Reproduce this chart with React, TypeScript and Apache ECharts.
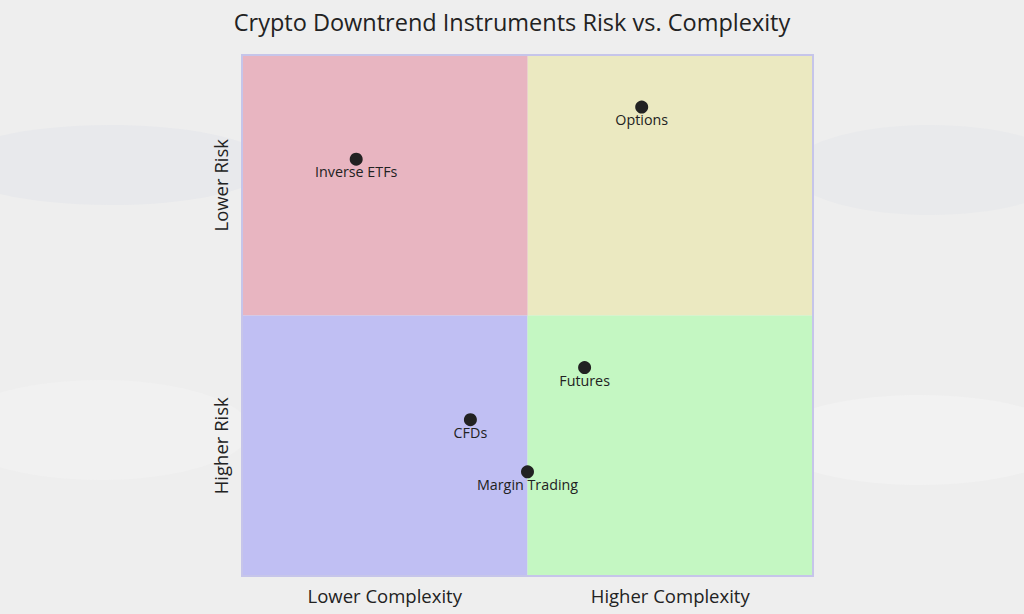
import React, { useEffect, useRef } from "react";
import * as echarts from "echarts";

const title = "Crypto Downtrend Instruments Risk vs. Complexity";
const xLabels = ["Lower Complexity", "Higher Complexity"];
const yLabels = ["Higher Risk", "Lower Risk"];
const names = ["Options", "Inverse ETFs", "Futures", "CFDs", "Margin Trading"];
const xValues = [0.7, 0.2, 0.6, 0.4, 0.5];
const yValues = [0.9, 0.8, 0.4, 0.3, 0.2];
const quadrantColors = ["#ebe9c1", "#e8b5c1", "#c0bff3", "#c4f7c2"]; // TR, TL, BL, BR

const FONT = "Open Sans, sans-serif";

export default function App() {
  const ref = useRef<HTMLDivElement>(null);
  useEffect(() => {
    document.body.style.margin = "0";
    const chart = echarts.init(ref.current!, null, { renderer: "svg" });
    const data = names.map((n, i) => ({ name: n, value: [xValues[i], yValues[i]] }));
    chart.setOption({
      animation: false,
      backgroundColor: "#eeeeee",
      textStyle: { fontFamily: FONT },
      graphic: [
        { type: "ellipse", shape: { cx: 110, cy: 165, rx: 160, ry: 40 }, style: { fill: "#e8e9ec" }, z: -10 },
        { type: "ellipse", shape: { cx: 930, cy: 170, rx: 140, ry: 45 }, style: { fill: "#e9eaec" }, z: -10 },
        { type: "ellipse", shape: { cx: 920, cy: 440, rx: 150, ry: 45 }, style: { fill: "#f2f2f2" }, z: -10 },
        { type: "ellipse", shape: { cx: 100, cy: 430, rx: 150, ry: 50 }, style: { fill: "#f1f1f1" }, z: -10 },
      ],
      title: {
        text: title,
        left: "center",
        top: 5,
        textStyle: { fontFamily: FONT, fontSize: 23.5, fontWeight: "normal", color: "#222222" },
      },
      grid: { left: 242, right: 211, top: 55, bottom: 38 },
      xAxis: {
        type: "value",
        min: 0,
        max: 1,
        interval: 0.25,
        axisLine: { show: false },
        axisTick: { show: false },
        splitLine: { show: false },
        axisLabel: {
          margin: 10,
          fontSize: 18.5,
          color: "#222222",
          fontFamily: FONT,
          formatter: (v: number) => (Math.abs(v - 0.25) < 1e-6 ? xLabels[0] : Math.abs(v - 0.75) < 1e-6 ? xLabels[1] : ""),
        },
      },
      yAxis: {
        type: "value",
        min: 0,
        max: 1,
        interval: 0.25,
        axisLine: { show: false },
        axisTick: { show: false },
        splitLine: { show: false },
        axisLabel: {
          margin: 12,
          rotate: 90,
          fontSize: 18.5,
          color: "#222222",
          fontFamily: FONT,
          formatter: (v: number) => (Math.abs(v - 0.25) < 1e-6 ? yLabels[0] : Math.abs(v - 0.75) < 1e-6 ? yLabels[1] : ""),
        },
      },
      series: [
        {
          type: "scatter",
          data,
          symbolSize: 13,
          itemStyle: { color: "#222222", opacity: 1 },
          z: 5,
          label: {
            show: true,
            position: "bottom",
            distance: -1,
            formatter: "{b}",
            fontSize: 14.3,
            color: "#222222",
            fontFamily: FONT,
          },
          markArea: {
            silent: true,
            data: [
              [{ coord: [0.5, 0.5], itemStyle: { color: quadrantColors[0] } }, { coord: [1, 1] }],
              [{ coord: [0, 0.5], itemStyle: { color: quadrantColors[1] } }, { coord: [0.5, 1] }],
              [{ coord: [0, 0], itemStyle: { color: quadrantColors[2] } }, { coord: [0.5, 0.5] }],
              [{ coord: [0.5, 0], itemStyle: { color: quadrantColors[3] } }, { coord: [1, 0.5] }],
              [
                { coord: [0, 0], itemStyle: { color: "transparent", borderColor: "#c6c5ea", borderWidth: 2 } },
                { coord: [1, 1] },
              ],
            ],
          },
        },
      ],
    });
    return () => chart.dispose();
  }, []);
  return <div ref={ref} style={{ width: 1024, height: 614 }} />;
}
